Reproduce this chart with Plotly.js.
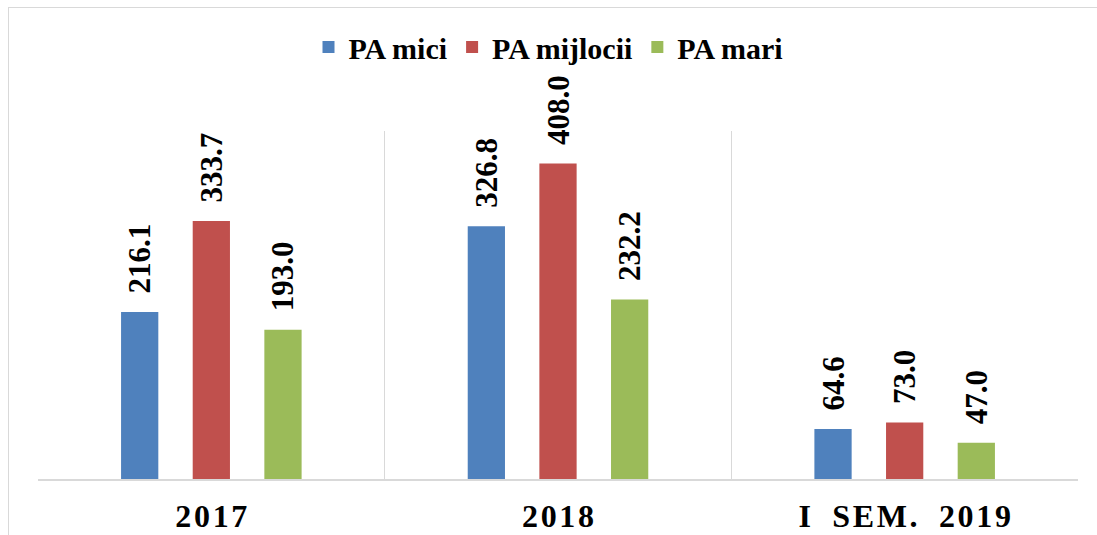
<!DOCTYPE html>
<html>
<head>
<meta charset="utf-8">
<script src="https://cdn.plot.ly/plotly-3.0.1.min.js"></script>
<style>
  html, body { margin: 0; padding: 0; background: #ffffff; overflow: hidden; }
  #chart { position: absolute; left: 0; top: 0; width: 1097px; height: 535px; }
  #frame { position: absolute; left: 8px; top: 7px; width: 1200px; height: 700px; border: 1px solid #d9d9d9; box-sizing: border-box; pointer-events: none; z-index: 5; }
</style>
</head>
<body>
<div id="chart"></div>
<div id="frame"></div>
<script>
const categories = ['2017', '2018', 'I SEM. 2019'];
const seriesNames = ['PA mici', 'PA mijlocii', 'PA mari'];
const paMici = [216.1, 326.8, 64.6];
const paMijlocii = [333.7, 408.0, 73.0];
const paMari = [193.0, 232.2, 47.0];
const colors = ['#4F81BD', '#C0504D', '#9BBB59'];

const HS = '\u200A';
const tickLabels = categories.map(s => s.split('').map(c => c === ' ' ? '\u00A0\u00A0' : c).join(HS));

const FAMILY = 'Liberation Serif';

const allValues = [paMici, paMijlocii, paMari];
const data = allValues.map((vals, i) => ({
  type: 'bar',
  name: seriesNames[i],
  x: categories,
  y: vals,
  marker: { color: colors[i] },
  text: vals.map(v => v.toFixed(1)),
  texttemplate: '\u00A0\u00A0%{text}',
  textposition: 'outside',
  textangle: -90,
  constraintext: 'none',
  cliponaxis: false,
  textfont: { family: FAMILY, size: 31, weight: 700, color: '#000000' },
  hoverinfo: 'skip'
}));

const layout = {
  width: 1097,
  height: 535,
  margin: { l: 38, r: 19, t: 131, b: 56 },
  font: { family: FAMILY, color: '#000000' },
  paper_bgcolor: '#ffffff',
  plot_bgcolor: '#ffffff',
  barmode: 'group',
  bargap: 0.38,
  bargroupgap: 0.48,
  showlegend: true,
  legend: {
    orientation: 'h',
    x: 0.5, xanchor: 'center', xref: 'container',
    y: 1 - 47 / 535, yanchor: 'middle', yref: 'container',
    font: { family: FAMILY, size: 30, weight: 700, color: '#000000' },
    traceorder: 'normal'
  },
  xaxis: {
    type: 'category',
    tickmode: 'array',
    tickvals: categories,
    ticktext: tickLabels,
    tickson: 'boundaries',
    ticks: '',
    showgrid: true,
    gridcolor: '#d9d9d9',
    gridwidth: 1.5,
    showline: true,
    linecolor: '#d9d9d9',
    linewidth: 1.5,
    ticklabelstandoff: 8,
    tickfont: { family: FAMILY, size: 32, weight: 700, color: '#000000' },
    fixedrange: true
  },
  yaxis: {
    range: [0, 450],
    showgrid: false,
    zeroline: false,
    showticklabels: false,
    ticks: '',
    showline: false,
    fixedrange: true
  }
};

const config = { displayModeBar: false, staticPlot: true };
const draw = () => Plotly.newPlot('chart', data, layout, config);
const fontReady = (document.fonts && document.fonts.load)
  ? Promise.all([
      document.fonts.load('700 30px "Liberation Serif"', 'PA mici 0123456789.'),
      document.fonts.load('700 31px "Liberation Serif"', '0123456789.')
    ]).catch(() => null)
  : Promise.resolve();
fontReady.then(draw).then(() => document.fonts ? document.fonts.ready : null).then(() => Plotly.redraw('chart'));
</script>
</body>
</html>
